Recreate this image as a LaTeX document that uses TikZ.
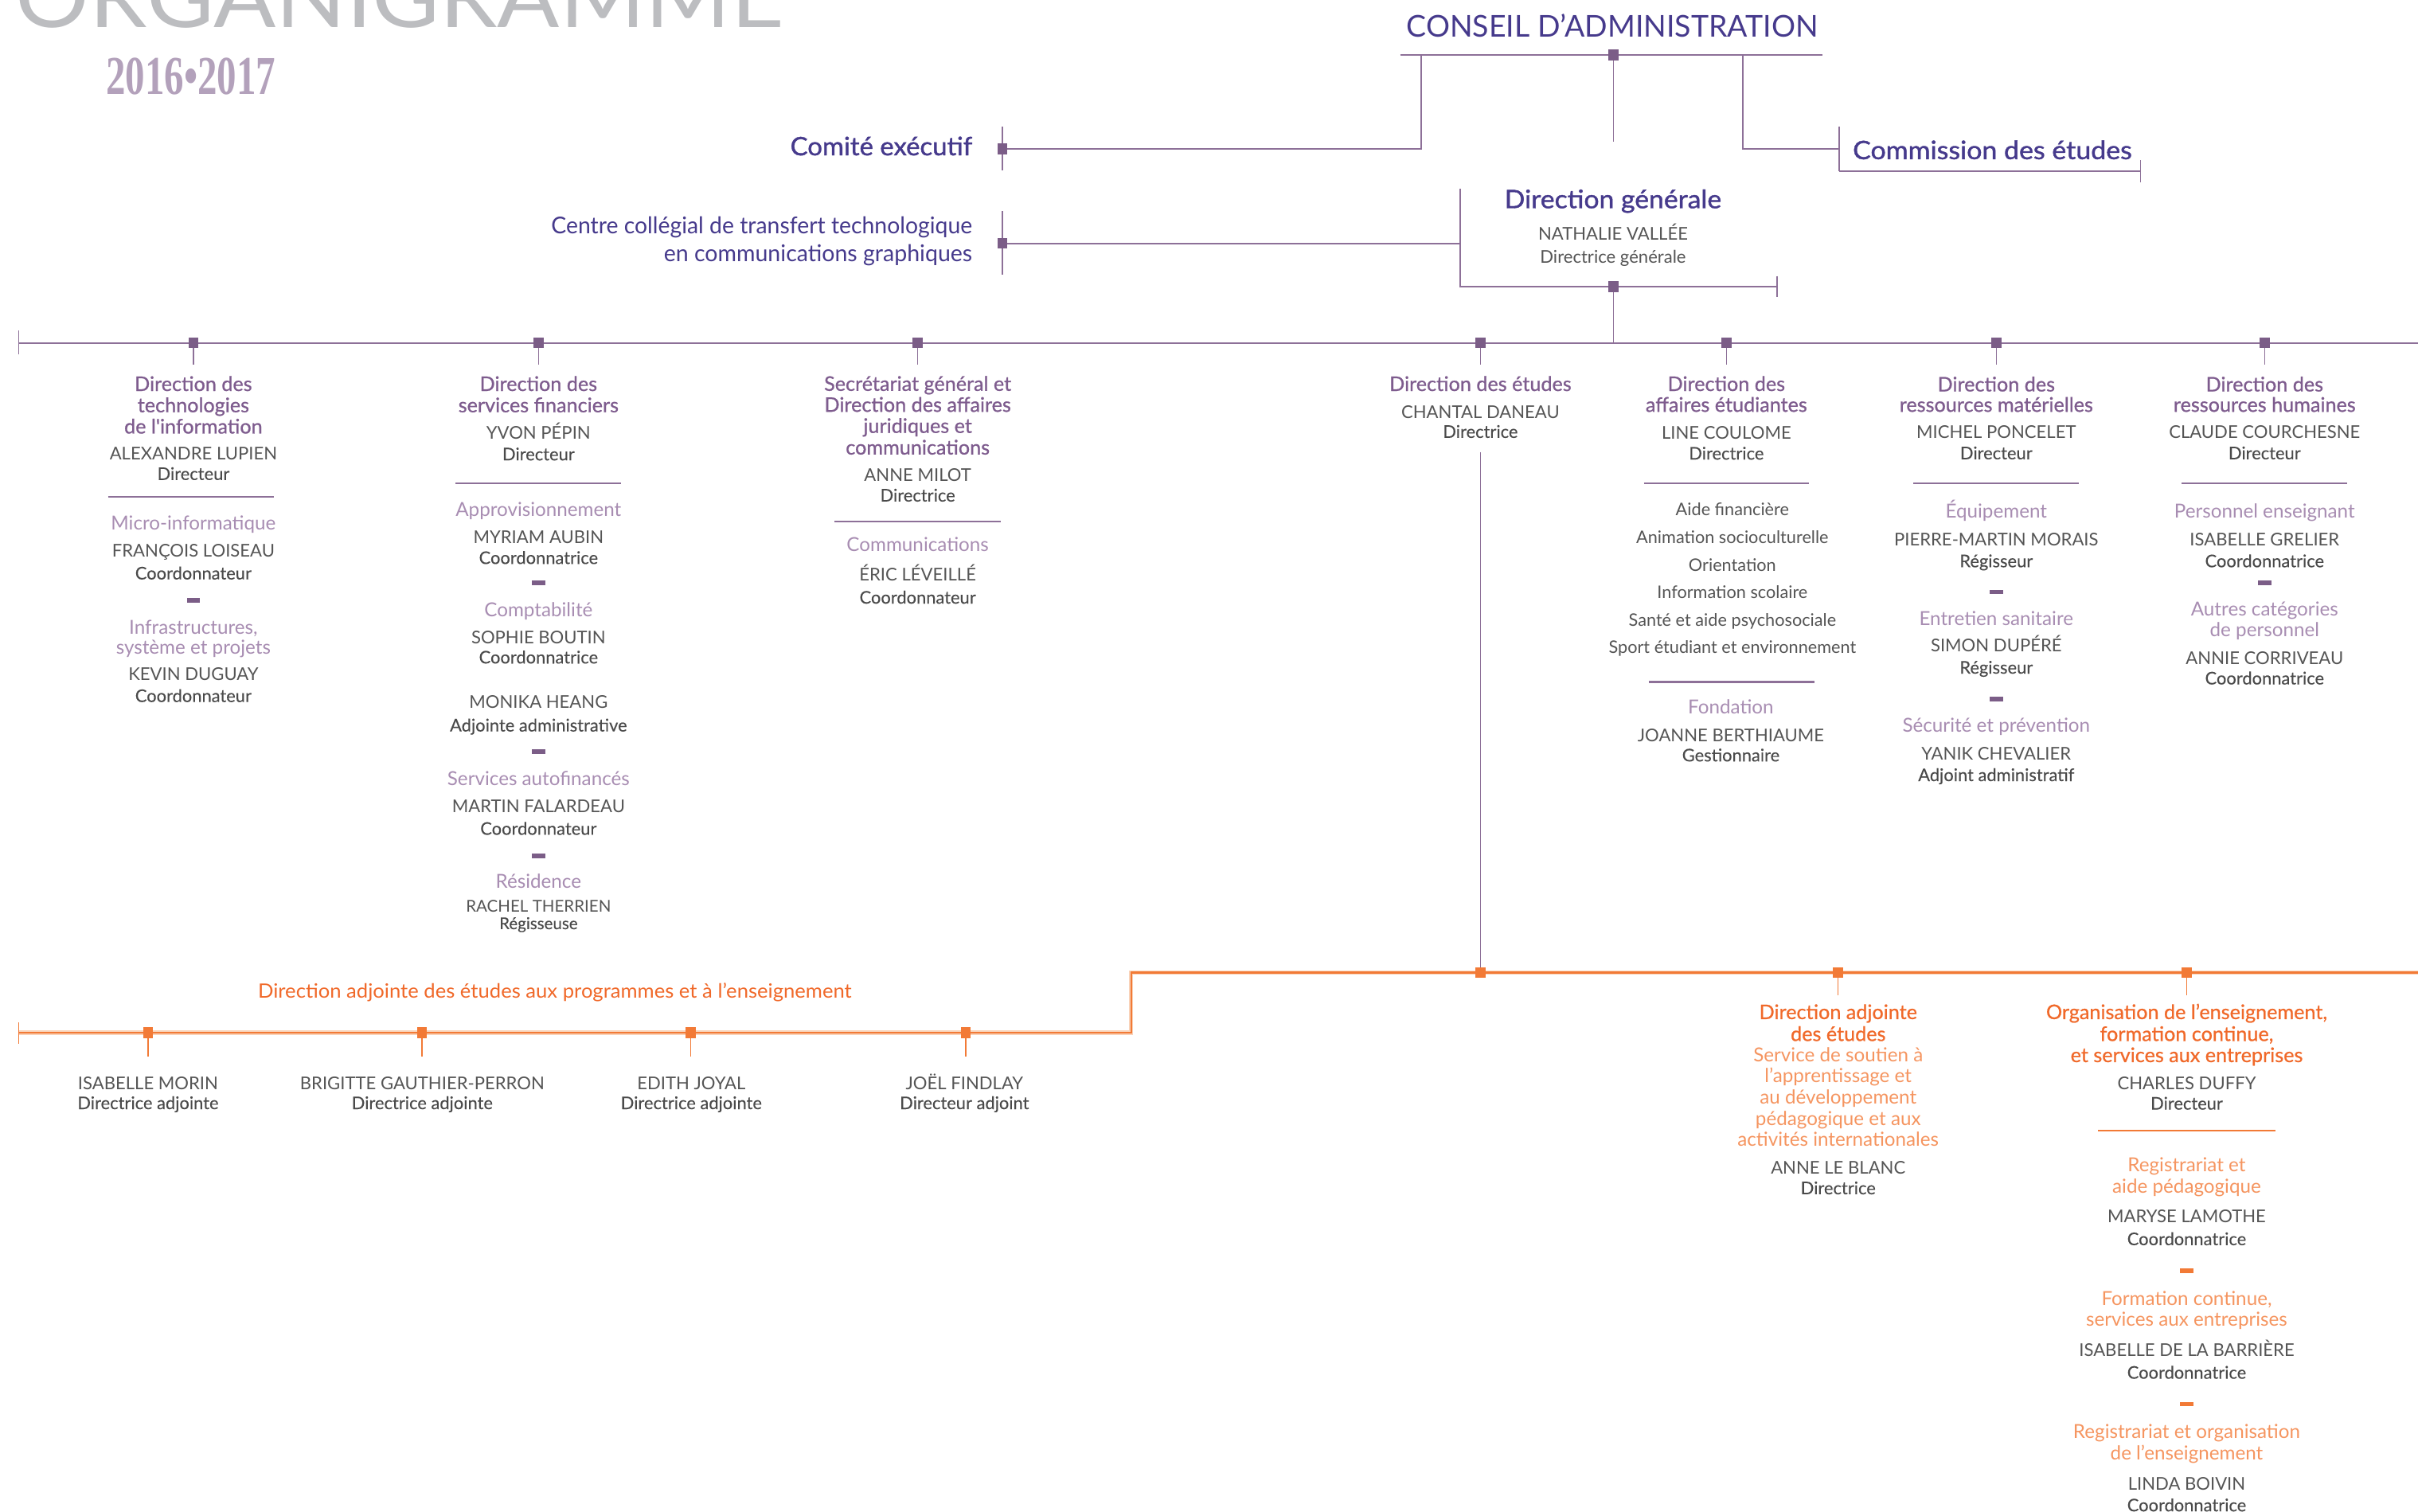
\documentclass[tikz,border=0pt]{standalone}
\usepackage{fontspec}
\usepackage{graphicx}
\setmainfont{Lato}
\newfontfamily\medf{Lato}[FakeBold=0.8]
\newfontfamily\semf{Lato}[FakeBold=1.2]
\newfontfamily\rolef{Lato}[FakeBold=0.15]
\newfontfamily\yrf{Liberation Serif}
\definecolor{indigo}{HTML}{463A8C}
\definecolor{hdP}{HTML}{7E5C8E}
\definecolor{ltP}{HTML}{A88DB2}
\definecolor{lnP}{HTML}{8D7098}
\definecolor{sqP}{HTML}{7B5D87}
\definecolor{gryN}{HTML}{555555}
\definecolor{gryR}{HTML}{4A4A4A}
\definecolor{orD}{HTML}{F0692A}
\definecolor{orL}{HTML}{F59560}
\definecolor{orLn}{HTML}{F27A36}
\definecolor{orSh}{HTML}{F9D2B8}
\definecolor{ttl}{HTML}{BCBDC0}
\definecolor{yr}{HTML}{B3A1BB}
\newcounter{tn}
\newcommand\tline[4]{\stepcounter{tn}\node[#1] (t\arabic{tn}) at (#2,#3) {#4};}
\tikzset{
 tb/.style={inner sep=0pt, outer sep=0pt, anchor=base},
 hP/.style={tb, font=\medf\fontsize{13}{14}\selectfont, text=hdP},
 nm/.style={tb, font=\fontsize{11.4}{13}\selectfont, text=gryN},
 rl/.style={tb, font=\rolef\fontsize{11.3}{13}\selectfont, text=gryR},
 sP/.style={tb, font=\fontsize{12.5}{14}\selectfont, text=ltP},
 li/.style={tb, font=\fontsize{11.2}{13}\selectfont, text=gryN},
 iH/.style={tb, font=\semf\fontsize{16.5}{18}\selectfont, text=indigo},
 iR/.style={tb, font=\fontsize{15}{18}\selectfont, text=indigo},
 cons/.style={tb, font=\fontsize{19.5}{22}\selectfont, text=indigo},
 oH/.style={tb, font=\medf\fontsize{13}{14}\selectfont, text=orD},
 oL/.style={tb, font=\fontsize{12.5}{14}\selectfont, text=orL},
 oT/.style={tb, font=\fontsize{12.8}{14}\selectfont, text=orD},
 pl/.style={draw=lnP, line width=1pt},
 tk/.style={draw=lnP, line width=0.7pt},
 sepP/.style={draw=lnP, line width=1.1pt},
 sepO/.style={draw=orLn, line width=1.1pt},
 ol/.style={draw=orLn, line width=1.2pt},
 osh/.style={draw=orSh, line width=2.8pt},
 otk/.style={draw=orLn, line width=0.7pt},
 sqp/.style={fill=sqP, draw=none, inner sep=0pt, minimum width=6.5pt, minimum height=7pt},
 sqo/.style={fill=orLn, draw=none, inner sep=0pt, minimum width=6.5pt, minimum height=7pt},
 dP/.style={fill=sqP, draw=none, inner sep=0pt, minimum width=8.6pt, minimum height=3pt},
 dO/.style={fill=orLn, draw=none, inner sep=0pt, minimum width=8.6pt, minimum height=3pt},
}
\newcommand\sepline[5]{\coordinate (#2a) at (#3,#5); \coordinate (#2b) at (#4,#5); \draw[#1] (#2a) -- (#2b);}
\begin{document}
\begin{tikzpicture}[x=1pt,y=-1pt]
\useasboundingbox (0,0) rectangle (1568,980.4);
% ---------- title
\node[anchor=base west, inner sep=0pt, font=\fontsize{56}{60}\selectfont, text=ttl] (title) at (10,17.7) {\resizebox{498pt}{\height}{ORGANIGRAMME}};
\node[anchor=base west, inner sep=0pt, font=\yrf\bfseries\fontsize{35.5}{38}\selectfont, text=yr] (year) at (68.5,61.4) {\resizebox{110pt}{\height}{2016•2017}};
% ---------- top structure
\coordinate (caL) at (908,35.6);
\coordinate (caR) at (1182,35.6);
\coordinate (caM) at (1046.3,35.6);
\coordinate (caD) at (1046.3,91.7);
\coordinate (caB) at (921.4,35.6);
\coordinate (ceM) at (650,96.4);
\coordinate (ceT) at (650,82);
\coordinate (ceB) at (650,110.7);
\coordinate (caC) at (1130,35.6);
\coordinate (cmL) at (1192.6,96.4);
\coordinate (cmT) at (1192.6,82);
\coordinate (cmB) at (1192.6,111);
\coordinate (cmR) at (1388,111);
\coordinate (cmRT) at (1388,104);
\coordinate (cmRB) at (1388,118);
\draw[pl] (caL) -- (caR);
\draw[tk] (caM) -- (caD);
\draw[pl] (caB) |- (ceM);
\draw[tk] (ceT) -- (ceB);
\draw[pl] (caC) |- (cmL);
\draw[tk] (cmT) -- (cmB);
\draw[pl] (cmB) -- (cmR);
\draw[tk] (cmRT) -- (cmRB);
% direction generale bracket
\coordinate (ccM) at (650,157.8);
\coordinate (ccT) at (650,137);
\coordinate (ccB) at (650,178);
\coordinate (dgT) at (946.7,122.5);
\coordinate (dgJ) at (946.7,157.8);
\coordinate (dgB) at (946.7,186);
\coordinate (dgR) at (1152.3,186);
\coordinate (dgRT) at (1152.3,179);
\coordinate (dgRB) at (1152.3,192.7);
\coordinate (dgM) at (1046.3,186);
\coordinate (mJ) at (1046.3,222.3);
\draw[pl] (ccM) -- (dgJ);
\draw[tk] (ccT) -- (ccB);
\draw[pl] (dgT) -- (dgB) -- (dgR);
\draw[tk] (dgRT) -- (dgRB);
\draw[tk] (dgM) -- (mJ);
% main purple line
\coordinate (mL) at (12,222.3);
\coordinate (mR) at (1568,222.3);
\coordinate (mLT) at (12,214.5);
\coordinate (mLB) at (12,230);
\draw[pl] (mL) -- (mR);
\draw[tk] (mLT) -- (mLB);
\foreach \i/\x in {1/125.4,2/349.2,3/595.1,4/960,5/1119.5,6/1294.5,7/1468.5}{
  \coordinate (m\i) at (\x,222.3);
  \coordinate (m\i s) at (\x,236.7);
  \draw[tk] (m\i) -- (m\i s);
}
\coordinate (m4v) at (960,293);
\coordinate (o1) at (960,630.7);
\draw[tk] (m4v) -- (o1);
% orange lines
\coordinate (oUL) at (733.5,630.7);
\coordinate (oUR) at (1568,630.7);
\coordinate (oLL) at (12,669.6);
\coordinate (oLR) at (733.5,669.6);
\coordinate (oLT) at (12,663);
\coordinate (oLB) at (12,676.7);
\draw[osh] (oLL) -- (oLR) -- (oUL) -- (oUR);
\draw[ol] (oLL) -- (oLR) -- (oUL) -- (oUR);
\draw[otk] (oLT) -- (oLB);
\coordinate (o2) at (1192,630.7);
\coordinate (o3) at (1418,630.7);
\coordinate (o2s) at (1192,645.4);
\coordinate (o3s) at (1418,645.4);
\draw[otk] (o2) -- (o2s);
\draw[otk] (o3) -- (o3s);
\foreach \i/\x in {1/96,2/273.7,3/448,4/626.2}{
  \coordinate (p\i) at (\x,669.6);
  \coordinate (p\i s) at (\x,685);
  \draw[otk] (p\i) -- (p\i s);
}
% separators
\sepline{sepP}{s1}{70}{177.5}{322}
\sepline{sepP}{s2}{295.4}{402.7}{313.4}
\sepline{sepP}{s3}{541.2}{648.8}{338}
\sepline{sepP}{s5}{1066}{1173.2}{313.4}
\sepline{sepP}{s5b}{1069}{1176.6}{442.2}
\sepline{sepP}{s6}{1240.8}{1348.1}{313.4}
\sepline{sepP}{s7}{1414.8}{1521.8}{313.4}
\sepline{sepO}{s8}{1360.6}{1475.7}{733.1}
% squares
\node[sqp] (qca) at (caM) {};
\node[sqp] (qce) at (ceM) {};
\node[sqp] (qcc) at (ccM) {};
\node[sqp] (qdg) at (dgM) {};
\foreach \i in {1,...,7}{\node[sqp] (qm\i) at (m\i) {};}
\node[sqo] (qo1) at (o1) {};
\node[sqo] (qo2) at (o2) {};
\node[sqo] (qo3) at (o3) {};
\foreach \i in {1,...,4}{\node[sqo] (qp\i) at (p\i) {};}
% dashes
\node[dP] (d1) at (125.4,389.3) {};
\node[dP] (d2) at (349.2,378) {};
\node[dP] (d3) at (349.2,487.5) {};
\node[dP] (d4) at (349.2,555) {};
\node[dP] (d5) at (1294.5,383.9) {};
\node[dP] (d6) at (1294.5,453.4) {};
\node[dP] (d7) at (1468.5,378) {};
\node[dO] (d8) at (1418,823.9) {};
\node[dO] (d9) at (1418,910.5) {};
% ---------- header texts
\tline{cons}{1045.5}{24.1}{\resizebox{267pt}{\height}{CONSEIL D’ADMINISTRATION}}
\tline{iH,anchor=base east}{630.5}{100.7}{\resizebox{118pt}{\height}{Comité exécutif}}
\tline{iH,anchor=base west}{1201.5}{103.2}{\resizebox{181pt}{\height}{Commission des études}}
\tline{iH}{1046}{135}{\resizebox{140.6pt}{\height}{Direction générale}}
\tline{nm}{1046}{155.7}{NATHALIE VALLÉE}
\tline{nm}{1046}{170.4}{Directrice générale}
\tline{iR,anchor=base east}{630.5}{151.5}{\resizebox{273pt}{\height}{Centre collégial de transfert technologique}}
\tline{iR,anchor=base east}{630.5}{169.5}{\resizebox{200pt}{\height}{en communications graphiques}}
% ---------- column 1
\tline{hP}{125.4}{253.5}{Direction des}
\tline{hP}{125.4}{267.3}{technologies}
\tline{hP}{125.4}{281.1}{de l'information}
\tline{nm}{125.4}{298.2}{ALEXANDRE LUPIEN}
\tline{rl}{125.4}{311.2}{Directeur}
\tline{sP}{125.4}{343.8}{Micro-informatique}
\tline{nm}{125.4}{361.4}{FRANÇOIS LOISEAU}
\tline{rl}{125.4}{375.7}{Coordonnateur}
\tline{sP}{125.4}{411}{Infrastructures,}
\tline{sP}{125.4}{424.2}{système et projets}
\tline{nm}{125.4}{441.4}{KEVIN DUGUAY}
\tline{rl}{125.4}{455.2}{Coordonnateur}
% ---------- column 2
\tline{hP}{349.2}{253.5}{Direction des}
\tline{hP}{349.2}{267.3}{services financiers}
\tline{nm}{349.2}{284.5}{YVON PÉPIN}
\tline{rl}{349.2}{298.5}{Directeur}
\tline{sP}{349.2}{334.7}{Approvisionnement}
\tline{nm}{349.2}{352.4}{MYRIAM AUBIN}
\tline{rl}{349.2}{365.7}{Coordonnatrice}
\tline{sP}{349.2}{400}{Comptabilité}
\tline{nm}{349.2}{417.3}{SOPHIE BOUTIN}
\tline{rl}{349.2}{430.2}{Coordonnatrice}
\tline{nm}{349.2}{459.1}{MONIKA HEANG}
\tline{rl}{349.2}{474.3}{Adjointe administrative}
\tline{sP}{349.2}{509.4}{Services autofinancés}
\tline{nm}{349.2}{527}{MARTIN FALARDEAU}
\tline{rl}{349.2}{541.3}{Coordonnateur}
\tline{sP}{349.2}{576.1}{Résidence}
\tline{nm,font=\fontsize{10.6}{12}\selectfont}{349.2}{591.2}{RACHEL THERRIEN}
\tline{rl,font=\rolef\fontsize{10.6}{12}\selectfont}{349.2}{602.5}{Régisseuse}
% ---------- column 3
\tline{hP}{595.1}{253.4}{Secrétariat général et}
\tline{hP}{595.1}{267}{Direction des affaires}
\tline{hP}{595.1}{280.7}{juridiques et}
\tline{hP}{595.1}{294.7}{communications}
\tline{nm}{595.1}{312.3}{ANNE MILOT}
\tline{rl}{595.1}{325.2}{Directrice}
\tline{sP}{595.1}{357.7}{Communications}
\tline{nm}{595.1}{376.6}{ÉRIC LÉVEILLÉ}
\tline{rl}{595.1}{391.4}{Coordonnateur}
% ---------- column 4
\tline{hP}{960}{253.5}{Direction des études}
\tline{nm}{960}{271.3}{CHANTAL DANEAU}
\tline{rl}{960}{283.9}{Directrice}
% ---------- column 5
\tline{hP}{1119.5}{253.5}{Direction des}
\tline{hP}{1119.5}{267}{affaires étudiantes}
\tline{nm}{1119.5}{284.5}{LINE COULOME}
\tline{rl}{1119.5}{298}{Directrice}
\tline{li}{1123.4}{334.5}{Aide financière}
\tline{li}{1123.4}{352.3}{Animation socioculturelle}
\tline{li}{1123.4}{370.4}{Orientation}
\tline{li}{1123.4}{388.2}{Information scolaire}
\tline{li}{1123.4}{406}{Santé et aide psychosociale}
\tline{li}{1123.4}{423.8}{Sport étudiant et environnement}
\tline{sP}{1122.4}{462.9}{Fondation}
\tline{nm}{1122.4}{480.7}{JOANNE BERTHIAUME}
\tline{rl}{1122.4}{493.7}{Gestionnaire}
% ---------- column 6
\tline{hP}{1294.5}{253.8}{Direction des}
\tline{hP}{1294.5}{267}{ressources matérielles}
\tline{nm}{1294.5}{284.4}{MICHEL PONCELET}
\tline{rl}{1294.5}{297.8}{Directeur}
\tline{sP}{1294.5}{336}{Équipement}
\tline{nm}{1294.5}{353.8}{PIERRE-MARTIN MORAIS}
\tline{rl}{1294.5}{367.8}{Régisseur}
\tline{sP}{1294.5}{405.4}{Entretien sanitaire}
\tline{nm}{1294.5}{422.8}{SIMON DUPÉRÉ}
\tline{rl}{1294.5}{436.8}{Régisseur}
\tline{sP}{1294.5}{474.8}{Sécurité et prévention}
\tline{nm}{1294.5}{492.6}{YANIK CHEVALIER}
\tline{rl}{1294.5}{506.5}{Adjoint administratif}
% ---------- column 7
\tline{hP}{1468.5}{253.8}{Direction des}
\tline{hP}{1468.5}{267}{ressources humaines}
\tline{nm}{1468.5}{284.4}{CLAUDE COURCHESNE}
\tline{rl}{1468.5}{297.8}{Directeur}
\tline{sP}{1468.5}{336}{Personnel enseignant}
\tline{nm}{1468.5}{353.8}{ISABELLE GRELIER}
\tline{rl}{1468.5}{367.8}{Coordonnatrice}
\tline{sP}{1468.5}{399.3}{Autres catégories}
\tline{sP}{1468.5}{412.6}{de personnel}
\tline{nm}{1468.5}{430.9}{ANNIE CORRIVEAU}
\tline{rl}{1468.5}{443.8}{Coordonnatrice}
% ---------- orange lower left
\tline{oT}{359.8}{647.4}{\resizebox{385pt}{\height}{Direction adjointe des études aux programmes et à l’enseignement}}
\tline{nm}{96}{706.4}{ISABELLE MORIN}
\tline{rl}{96}{719.2}{Directrice adjointe}
\tline{nm}{273.8}{706.4}{BRIGITTE GAUTHIER-PERRON}
\tline{rl}{273.8}{719.2}{Directrice adjointe}
\tline{nm}{448.3}{706.4}{EDITH JOYAL}
\tline{rl}{448.3}{719.2}{Directrice adjointe}
\tline{nm}{625.4}{706.4}{JOËL FINDLAY}
\tline{rl}{625.4}{719.2}{Directeur adjoint}
% ---------- orange column A
\tline{oH}{1192}{660.8}{Direction adjointe}
\tline{oH}{1192}{675}{des études}
\tline{oL}{1192}{688.7}{Service de soutien à}
\tline{oL}{1192}{702.1}{l’apprentissage et}
\tline{oL}{1192}{715.9}{au développement}
\tline{oL}{1192}{730}{pédagogique et aux}
\tline{oL}{1192}{743.4}{activités internationales}
\tline{nm}{1192}{761.1}{ANNE LE BLANC}
\tline{rl}{1192}{774.4}{Directrice}
% ---------- orange column B
\tline{oH}{1418}{660.8}{Organisation de l’enseignement,}
\tline{oH}{1418}{675}{formation continue,}
\tline{oH}{1418}{688.7}{et services aux entreprises}
\tline{nm}{1418}{706.4}{CHARLES DUFFY}
\tline{rl}{1418}{719.5}{Directeur}
\tline{oL}{1418}{759.8}{Registrariat et}
\tline{oL}{1418}{773.5}{aide pédagogique}
\tline{nm}{1418}{793}{MARYSE LAMOTHE}
\tline{rl}{1418}{807.4}{Coordonnatrice}
\tline{oL}{1418}{846.7}{Formation continue,}
\tline{oL}{1418}{860.1}{services aux entreprises}
\tline{nm}{1418}{879.7}{ISABELLE DE LA BARRIÈRE}
\tline{rl}{1418}{894}{Coordonnatrice}
\tline{oL}{1418}{932.7}{Registrariat et organisation}
\tline{oL}{1418}{946.8}{de l’enseignement}
\tline{nm}{1418}{966.3}{LINDA BOIVIN}
\tline{rl}{1418}{980}{Coordonnatrice}
\end{tikzpicture}
\end{document}
